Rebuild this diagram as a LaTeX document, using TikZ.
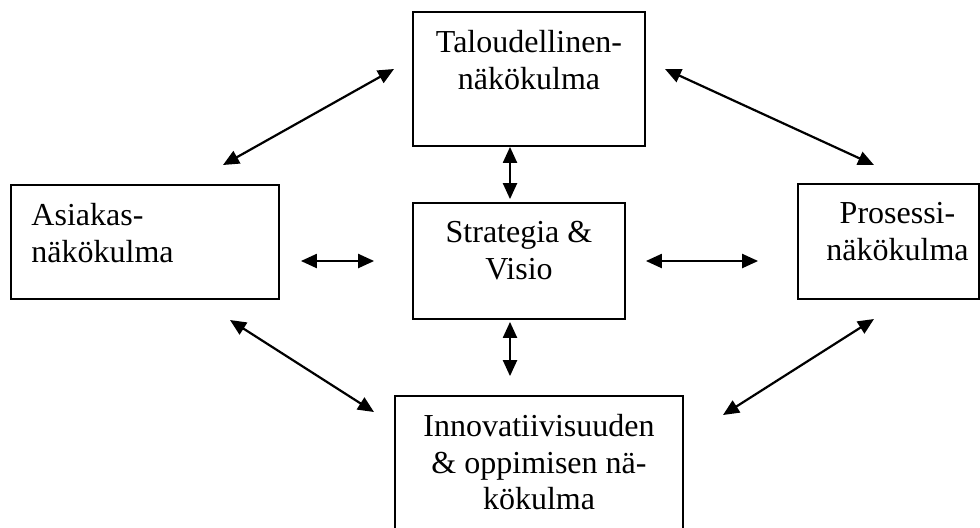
\documentclass[tikz,border=0pt]{standalone}
\usepackage{fontspec}
\setmainfont{Liberation Serif}
\usetikzlibrary{arrows.meta,positioning}
\tikzset{
  bx/.style={draw, line width=0.9pt, inner sep=0pt},
  txt/.style={font=\fontsize{16}{18.25}\selectfont, align=center, inner sep=0pt},
  ar/.style={{Triangle[length=8pt,width=7pt]}-{Triangle[length=8pt,width=7pt]}, line width=1.1pt},
}
\begin{document}
\begin{tikzpicture}[x=0.5pt,y=-0.5pt]
  \clip (0,0) rectangle (980,527);
  % boxes
  \node[bx, minimum width=116pt, minimum height=67pt] (tal) at (529,79) {};
  \node[bx, minimum width=106pt, minimum height=58pt] (strat) at (519,261) {};
  \node[bx, minimum width=134pt, minimum height=57pt] (asi) at (145,242) {};
  \node[bx, minimum width=90.5pt, minimum height=57.5pt] (pro) at (888.5,241.5) {};
  \node[bx, minimum width=144pt, minimum height=80pt] (inno) at (539,476) {};
  % texts
  \node[txt, below=9.5pt of tal.north] (talT) {Taloudellinen-\\näkökulma};
  \node[txt, below=9.5pt of strat.north] (stratT) {Strategia \&\\Visio};
  \node[txt, align=left, below right=9.5pt and 10.5pt of asi.north west] (asiT) {Asiakas-\\näkökulma};
  \node[txt, below=9.5pt of pro.north, xshift=4.5pt] (proT) {Prosessi-\\näkökulma};
  \node[txt, below=9.5pt of inno.north] (innoT) {Innovatiivisuuden\\\& oppimisen nä-\\kökulma};
  % arrow ends
  \coordinate (d1a) at (223,165);
  \coordinate (d1b) at (394,69);
  \coordinate (d2a) at (665,69);
  \coordinate (d2b) at (874,165);
  \coordinate (d3a) at (230,320);
  \coordinate (d3b) at (374,412);
  \coordinate (d4a) at (723,415);
  \coordinate (d4b) at (874,319);
  % arrows
  \draw[ar, shorten >=1.5pt] ([xshift=-9.5pt]tal.south) -- ([xshift=-4.5pt]strat.north);
  \draw[ar, shorten <=1pt, shorten >=9.5pt] ([xshift=-4.5pt]strat.south) -- ([xshift=-14.5pt]inno.north);
  \draw[ar, shorten <=10.5pt, shorten >=19pt] (asi.east |- strat.west) -- (strat.west);
  \draw[ar, shorten <=10pt, shorten >=19.5pt] (strat.east) -- (pro.west |- strat.east);
  \draw[ar] (d1a) -- (d1b);
  \draw[ar] (d2a) -- (d2b);
  \draw[ar] (d3a) -- (d3b);
  \draw[ar] (d4a) -- (d4b);
\end{tikzpicture}
\end{document}
